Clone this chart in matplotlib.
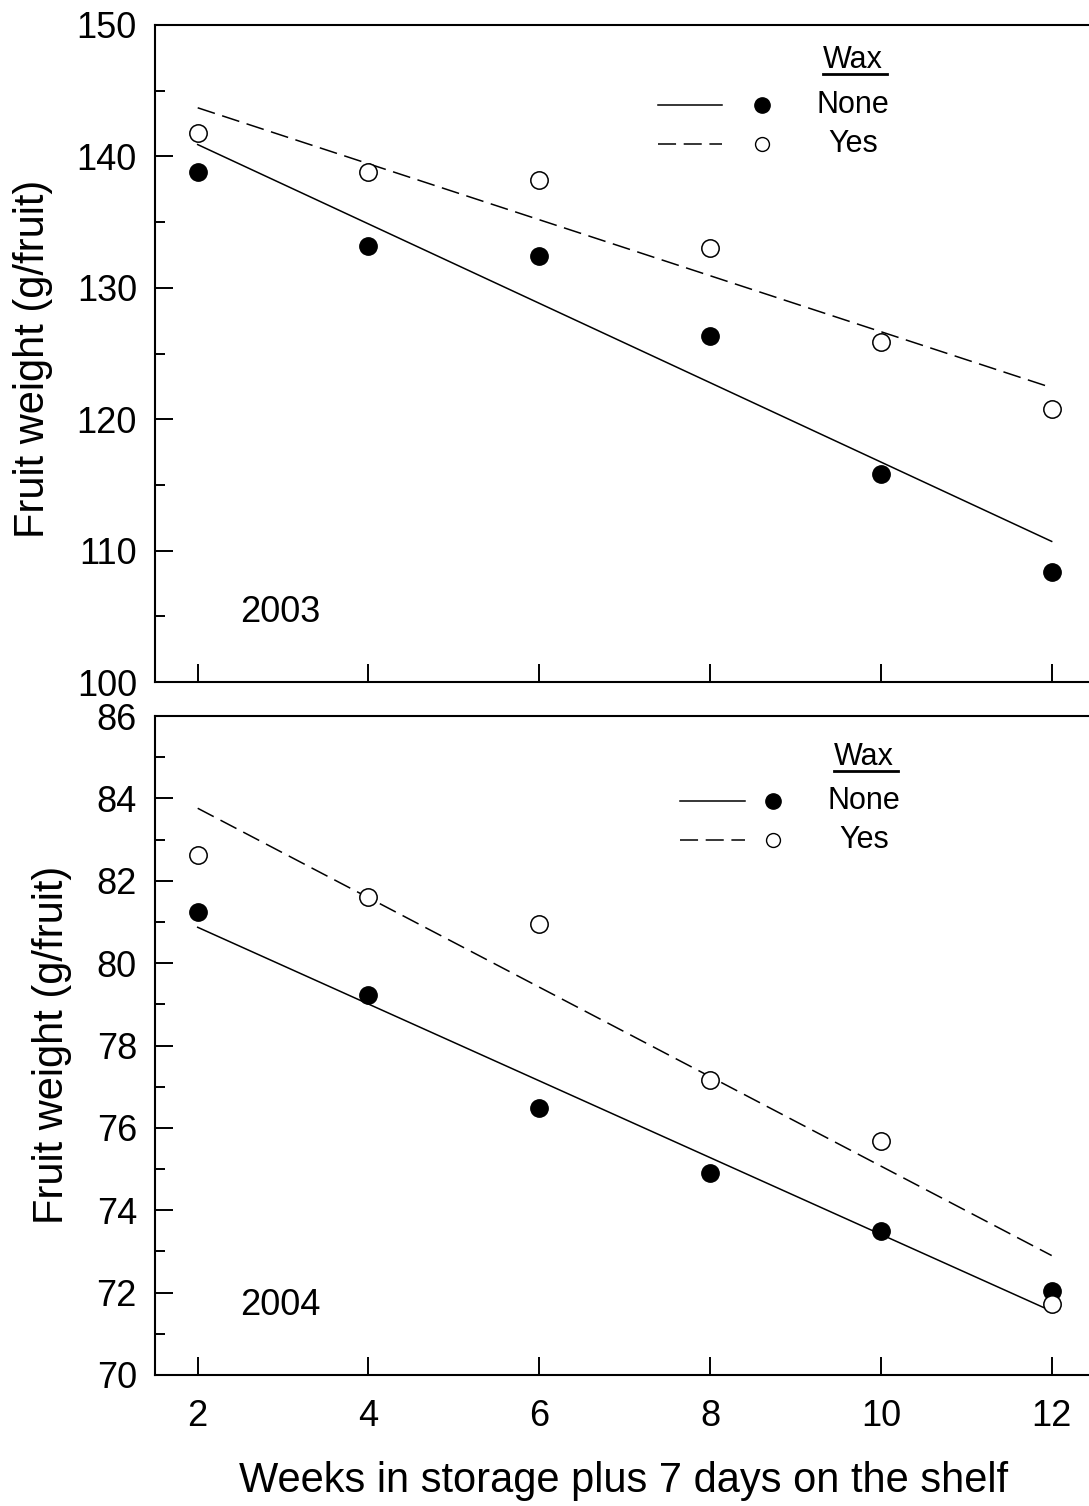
import numpy as np
import matplotlib
matplotlib.use("Agg")
import matplotlib.pyplot as plt
from matplotlib.lines import Line2D

plt.rcParams["font.family"] = ["Liberation Sans", "DejaVu Sans"]

# -- DATA --
weeks = [2, 4, 6, 8, 10, 12]

# 2003 season
none_2003 = [138.8, 133.2, 132.4, 126.3, 115.8, 108.4]
yes_2003 = [141.8, 138.8, 138.2, 133.0, 125.9, 120.8]
# fitted lines (endpoints at 2 and 12 weeks)
fit_x = [2, 12]
fit_none_2003 = [140.9, 110.7]
fit_yes_2003 = [143.7, 122.4]

# 2004 season
none_2004 = [81.24, 79.23, 76.48, 74.91, 73.50, 72.04]
yes_2004 = [82.63, 81.61, 80.95, 77.16, 75.68, 71.72]
fit_none_2004 = [80.87, 71.55]
fit_yes_2004 = [83.76, 72.90]

W, H = 1089, 1506
LW = 1.1
DASH = (0, (13.0 / LW, 5.5 / LW))


def px_axes(fig, left, top, right, bottom):
    return fig.add_axes([left / W, 1 - bottom / H, (right - left) / W, (bottom - top) / H])


def style(ax, ylim, major, minor, show_x):
    ax.set_xlim(1.5, 12.437)
    ax.set_ylim(*ylim)
    ax.set_xticks(weeks)
    ax.set_yticks(np.arange(ylim[0], ylim[1] + 0.1, major))
    ax.set_yticks(np.arange(ylim[0], ylim[1] + 0.1, minor), minor=True)
    ax.spines["right"].set_visible(False)
    for s in ["left", "top", "bottom"]:
        ax.spines[s].set_linewidth(1.5)
    ax.tick_params(axis="both", which="major", direction="in", length=13,
                   width=1.4, labelsize=26)
    ax.tick_params(axis="y", which="minor", direction="in", length=7.5, width=1.4)
    ax.tick_params(axis="y", which="major", pad=13)
    ax.tick_params(axis="x", which="major", pad=17)
    ax.tick_params(axis="x", which="minor", bottom=False)
    if not show_x:
        ax.tick_params(axis="x", labelbottom=False)


def legend(ax, x_line0, x_line1, x_mark, x_text, y_title, y_none, y_yes):
    tr = ax.transAxes
    # pixel position in the figure -> axes fraction
    bb = ax.get_position()
    def fx(px):
        return (px / W - bb.x0) / bb.width
    def fy(py):
        return ((1 - py / H) - bb.y0) / bb.height
    ax.text(fx(x_text), fy(y_title), "Wax", transform=tr, ha="center", va="center",
            fontsize=22)
    ax.add_line(Line2D([fx(x_text - 30), fx(x_text + 34)], [fy(y_title + 14)] * 2,
                       transform=tr, color="black", lw=2.0))
    ax.add_line(Line2D([fx(x_line0), fx(x_line1)], [fy(y_none)] * 2, transform=tr,
                       color="black", lw=LW))
    ax.add_line(Line2D([fx(x_line0), fx(x_line1)], [fy(y_yes)] * 2, transform=tr,
                       color="black", lw=LW, linestyle=DASH))
    ax.add_line(Line2D([fx(x_mark)], [fy(y_none)], transform=tr, marker="o",
                       markersize=11, color="black", linestyle="none"))
    ax.add_line(Line2D([fx(x_mark)], [fy(y_yes)], transform=tr, marker="o",
                       markersize=10, markerfacecolor="white", markeredgecolor="black",
                       markeredgewidth=1.0, linestyle="none"))
    ax.text(fx(x_text), fy(y_none), "None", transform=tr, ha="center", va="center",
            fontsize=22)
    ax.text(fx(x_text), fy(y_yes), "Yes", transform=tr, ha="center", va="center",
            fontsize=22)


def panel(ax, none, yes, fit_none, fit_yes):
    ax.plot(fit_x, fit_none, color="black", lw=LW, zorder=2)
    ax.plot(fit_x, fit_yes, color="black", lw=LW, linestyle=DASH, zorder=2)
    ax.plot(weeks, none, "o", color="black", markersize=12.5, zorder=3)
    ax.plot(weeks, yes, "o", markerfacecolor="white", markeredgecolor="black",
            markeredgewidth=1.1, markersize=12.5, zorder=3)


fig = plt.figure(figsize=(W / 100, H / 100), dpi=100)

ax1 = px_axes(fig, 155, 25, 1089, 682)
panel(ax1, none_2003, yes_2003, fit_none_2003, fit_yes_2003)
style(ax1, (100, 150), 10, 5, False)
ax1.text(2.5, 105.3, "2003", fontsize=26, ha="left", va="center")
legend(ax1, 658, 722, 762, 853, 60, 105, 144)

ax2 = px_axes(fig, 155, 716, 1089, 1375)
panel(ax2, none_2004, yes_2004, fit_none_2004, fit_yes_2004)
style(ax2, (70, 86), 2, 1, True)
ax2.text(2.5, 71.68, "2004", fontsize=26, ha="left", va="center")
legend(ax2, 680, 745, 773, 864, 757, 801, 840)

fig.text(33 / W, 1 - 359 / H, "Fruit weight (g/fruit)", rotation=90, ha="center",
         va="center", fontsize=30)
fig.text(52 / W, 1 - 1045 / H, "Fruit weight (g/fruit)", rotation=90, ha="center",
         va="center", fontsize=30)
fig.text(624 / W, 1 - 1481 / H, "Weeks in storage plus 7 days on the shelf",
         ha="center", va="center", fontsize=30)

fig.savefig("out.png", dpi=100)
